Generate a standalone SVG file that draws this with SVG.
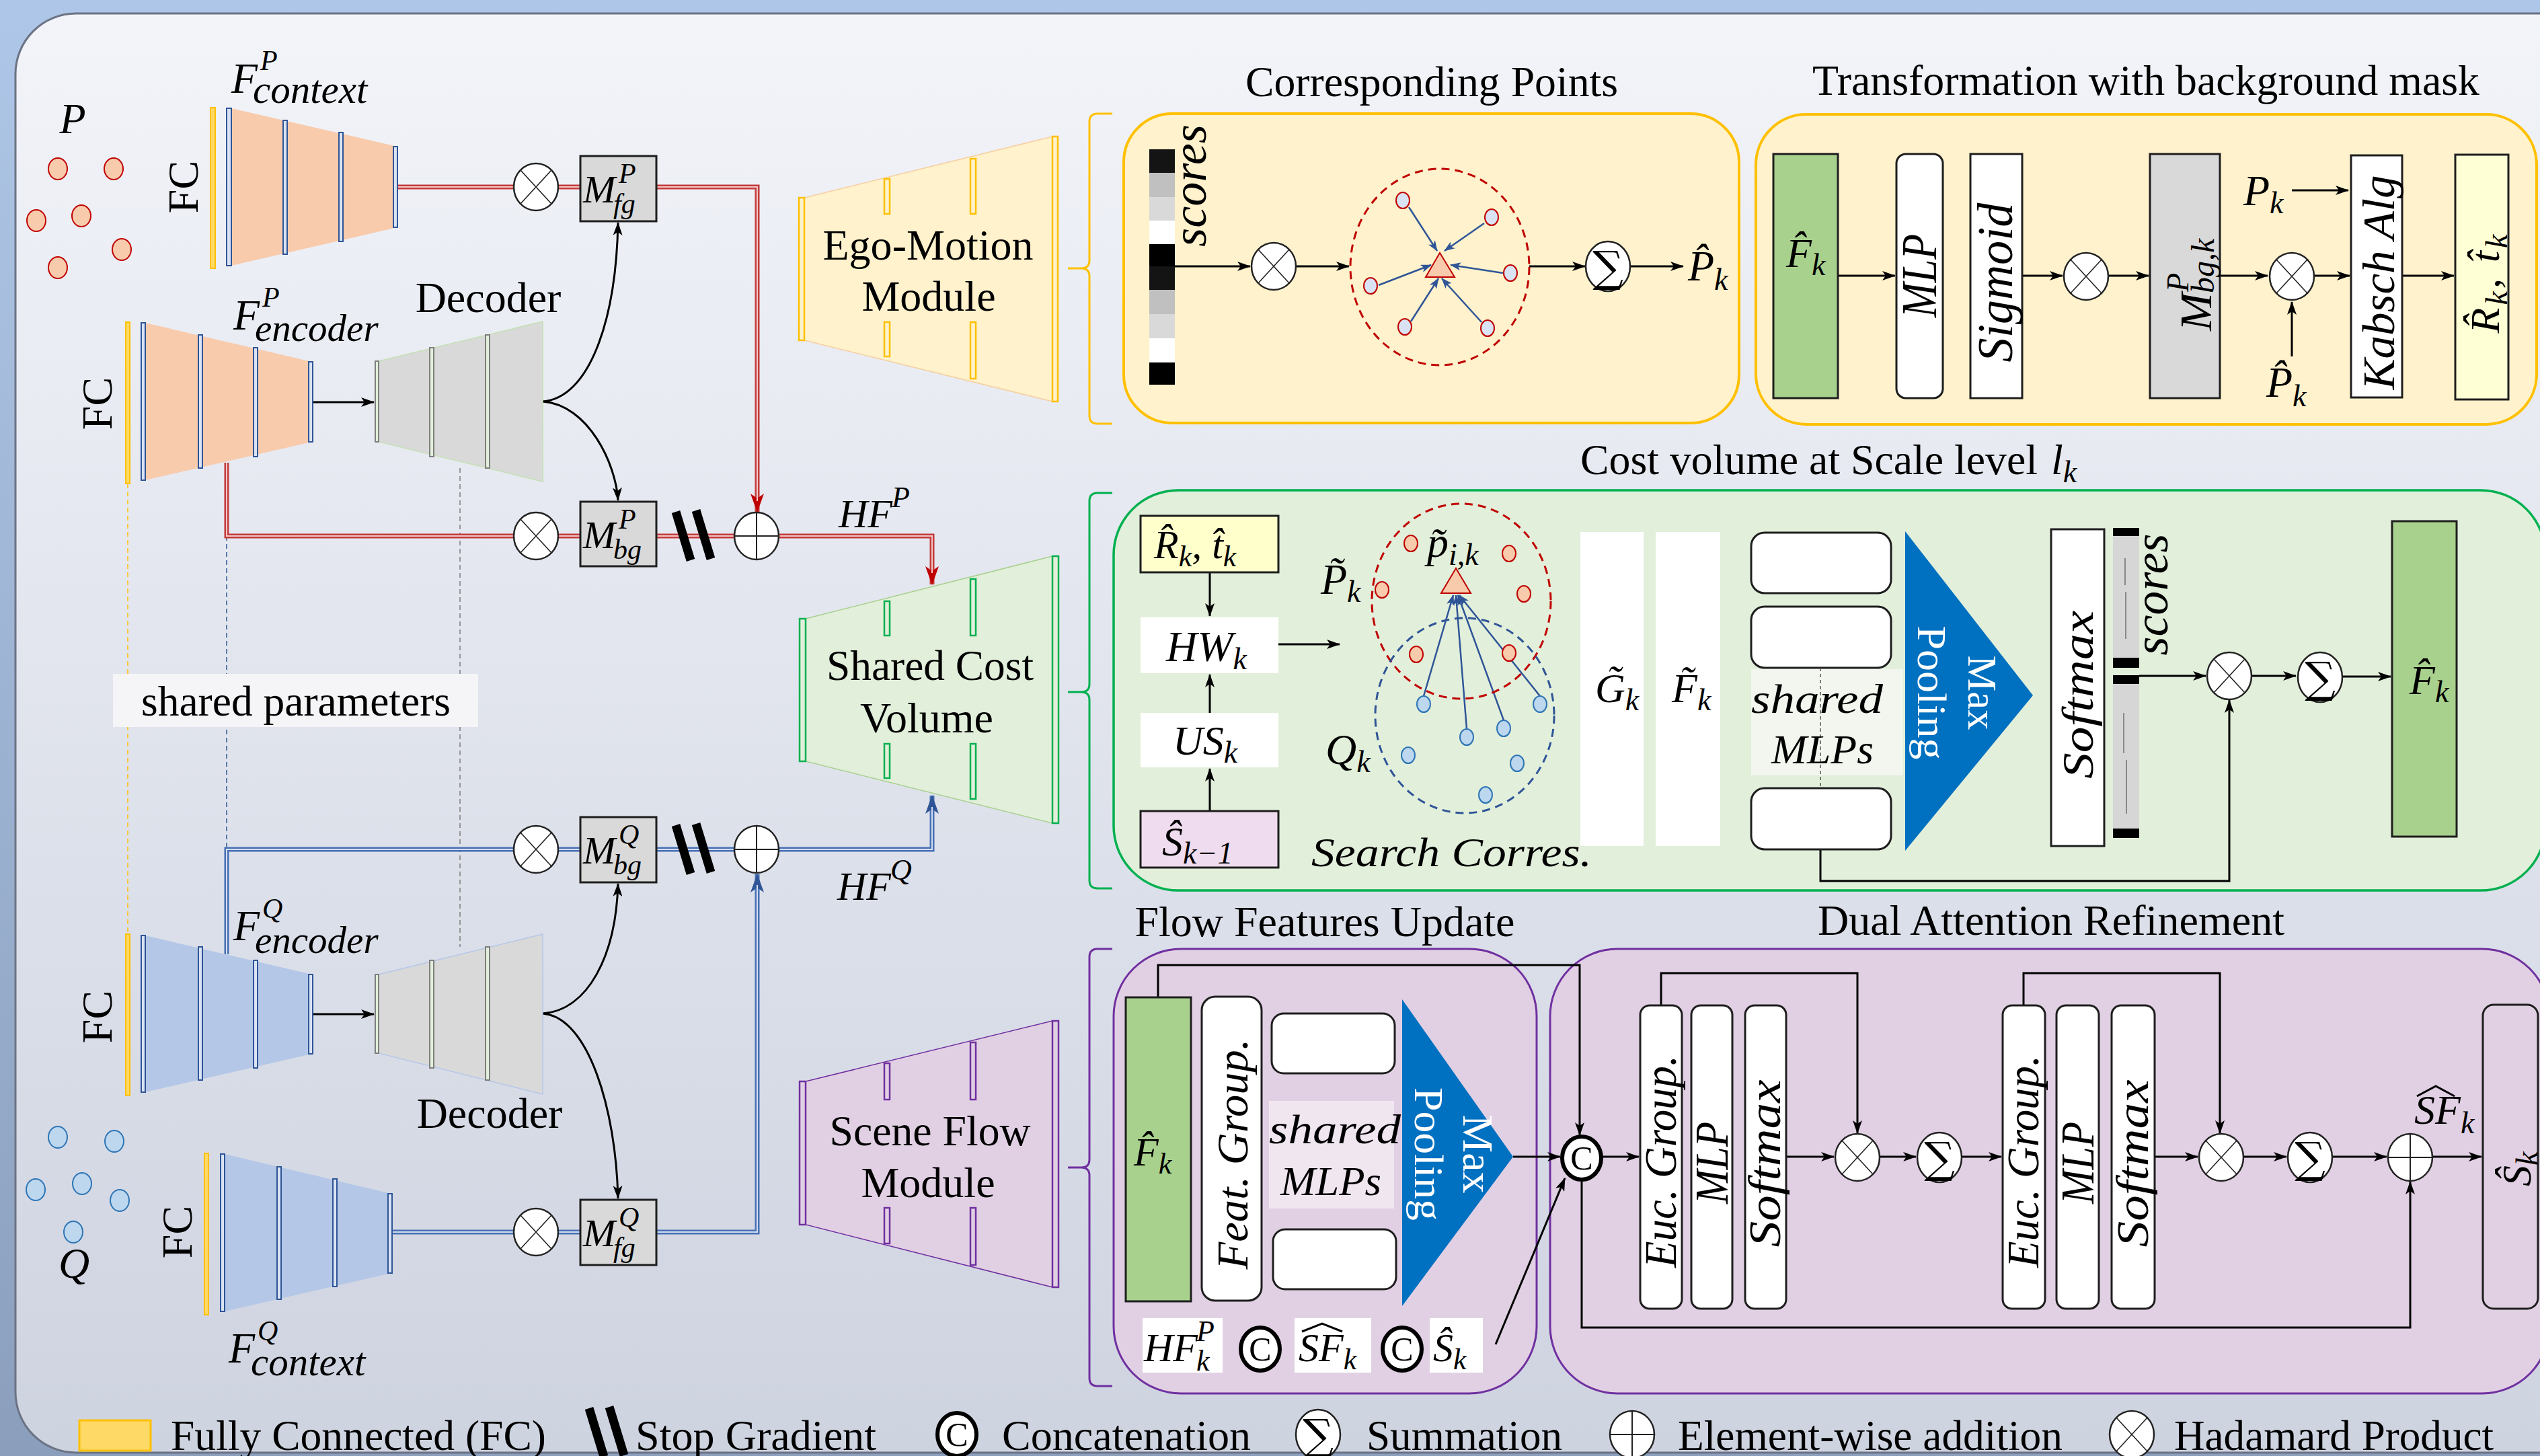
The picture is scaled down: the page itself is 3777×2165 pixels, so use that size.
<svg xmlns="http://www.w3.org/2000/svg" width="3777" height="2165" viewBox="0 0 3777 2165">
<style>
.t{font-family:"Liberation Serif","Times New Roman",serif;fill:#000}
.i{font-family:"Liberation Serif","Times New Roman",serif;font-style:italic;fill:#000}
.w{fill:#fff}
.ln{fill:none;stroke:#000;stroke-width:3}
.ar{fill:none;stroke:#000;stroke-width:3;marker-end:url(#ab)}
.rd{fill:none;stroke:#c33b3b;stroke-width:7}
.rdi{fill:none;stroke:#f5c6c6;stroke-width:2}
.bl{fill:none;stroke:#4870b5;stroke-width:7}
.bli{fill:none;stroke:#d3def1;stroke-width:2}
.box{stroke:#1e1e1e;stroke-width:3}
.fc{fill:#ffd966;stroke:#ffc000;stroke-width:2}
.eb{fill:#dae3f3;stroke:#2f5597;stroke-width:2}
.db{fill:#e2efda;stroke:#7f7f7f;stroke-width:2}
.pp{fill:#f8cbad;stroke:#c00000;stroke-width:2}
.qp{fill:#bdd7ee;stroke:#2e75b6;stroke-width:2}
.sp{fill:#dae3f3;stroke:#c00000;stroke-width:2}
.ya{fill:#fff2cc;stroke:#ffc000;stroke-width:2.5}
.ga{fill:#e2efda;stroke:#00b050;stroke-width:2.5}
.pa{fill:#e1d0e3;stroke:#7030a0;stroke-width:2.5}
.ba{fill:none;stroke:#2f5597;stroke-width:2.5;marker-end:url(#as)}
</style>
<defs>
<linearGradient id="gOut" x1="0" y1="0" x2="0" y2="1"><stop offset="0" stop-color="#aec6e7"/><stop offset="1" stop-color="#8b9fbd"/></linearGradient>
<linearGradient id="gPan" x1="0" y1="0" x2="0" y2="1"><stop offset="0" stop-color="#f2f4f9"/><stop offset="1" stop-color="#ced3e0"/></linearGradient>
<marker id="ab" viewBox="0 0 20 14" refX="19" refY="7" markerWidth="20" markerHeight="14" markerUnits="userSpaceOnUse" orient="auto"><path d="M0,0 L20,7 L0,14 L5,7 z" fill="#000"/></marker>
<marker id="ar" viewBox="0 0 28 20" refX="27" refY="10" markerWidth="28" markerHeight="20" markerUnits="userSpaceOnUse" orient="auto"><path d="M0,0 L28,10 L0,20 L7,10 z" fill="#c00000"/></marker>
<marker id="au" viewBox="0 0 28 20" refX="27" refY="10" markerWidth="28" markerHeight="20" markerUnits="userSpaceOnUse" orient="auto"><path d="M0,0 L28,10 L0,20 L7,10 z" fill="#2f5597"/></marker>
<marker id="as" viewBox="0 0 16 12" refX="15" refY="6" markerWidth="16" markerHeight="12" markerUnits="userSpaceOnUse" orient="auto"><path d="M0,0 L16,6 L0,12 L4,6 z" fill="#2f5597"/></marker>
<g id="had"><ellipse rx="33" ry="35" fill="#fff" stroke="#222" stroke-width="2.5"/><path d="M-23,-25 L23,25 M23,-25 L-23,25" stroke="#222" stroke-width="1.6" fill="none"/></g>
<g id="add"><ellipse rx="33" ry="35" fill="#fff" stroke="#222" stroke-width="2.5"/><path d="M-33,0 H33 M0,-35 V35" stroke="#222" stroke-width="2" fill="none"/></g>
<g id="sum"><ellipse rx="33" ry="37" fill="#fff" stroke="#222" stroke-width="2.5"/><text y="23" text-anchor="middle" font-family="DejaVu Serif,serif" font-size="64">∑</text></g>
<g id="cat"><ellipse rx="29" ry="32" fill="#fff" stroke="#000" stroke-width="6"/><text y="17" text-anchor="middle" font-family="Liberation Serif,serif" font-size="50">C</text></g>
<g id="sg"><path d="M-26,-36 L-4,36 M4,-38 L26,34" stroke="#000" stroke-width="13" fill="none"/></g>
</defs>

<g id="background">
<rect width="3777" height="2165" fill="url(#gOut)"/>
<rect x="23" y="20" width="3850" height="2140" rx="90" fill="url(#gPan)" stroke="#6b7384" stroke-width="3"/>
</g>

<g id="shared-params">
<path d="M190,719 V1389" stroke="#ffc000" fill="none" stroke-width="1.5" stroke-dasharray="7 5"/>
<path d="M337,797 V1263" stroke="#2f5597" fill="none" stroke-width="1.5" stroke-dasharray="7 5"/>
<path d="M684,696 V1408" stroke="#7f7f7f" fill="none" stroke-width="1.5" stroke-dasharray="7 5"/>
<rect x="168" y="1002" width="543" height="79" fill="#f5f4f6"/>
<text class="t" x="440" y="1064" font-size="64" text-anchor="middle" textLength="460" lengthAdjust="spacingAndGlyphs">shared parameters</text>
</g>

<g id="modules">
<g id="ego-motion-module">
<polygon points="1196,294 1565,203 1565,597 1196,506" fill="#fff2cc" stroke="#f7cfa0" stroke-width="1.5"/>
<rect class="ya" x="1188" y="294" width="8" height="212"/><rect class="ya" x="1565" y="203" width="8" height="394"/>
<rect class="ya" x="1315" y="266" width="8" height="52"/><rect class="ya" x="1315" y="479" width="8" height="51"/>
<rect class="ya" x="1443" y="236" width="8" height="82"/><rect class="ya" x="1443" y="479" width="8" height="84"/>
<text class="t" x="1380" y="386" font-size="64" text-anchor="middle" textLength="313" lengthAdjust="spacingAndGlyphs">Ego-Motion</text>
<text class="t" x="1381" y="462" font-size="64" text-anchor="middle">Module</text>
<path d="M1654,169 H1632 Q1620,169 1620,181 V387 Q1620,399 1608,399 H1588 M1608,399 Q1620,399 1620,411 V618 Q1620,630 1632,630 H1654" fill="none" stroke="#ffc000" stroke-width="3"/>
</g>
<g id="shared-cost-volume">
<polygon points="1198,920 1565,827 1565,1224 1198,1132" fill="#e2efda" stroke="#a9d18e" stroke-width="1.5"/>
<rect class="ga" x="1189" y="920" width="9" height="212"/><rect class="ga" x="1565" y="827" width="9" height="397"/>
<rect class="ga" x="1315" y="894" width="8" height="51"/><rect class="ga" x="1315" y="1106" width="8" height="51"/>
<rect class="ga" x="1443" y="861" width="8" height="84"/><rect class="ga" x="1443" y="1106" width="8" height="82"/>
<text class="t" x="1383" y="1011" font-size="64" text-anchor="middle" textLength="308" lengthAdjust="spacingAndGlyphs">Shared Cost</text>
<text class="t" x="1378" y="1089" font-size="64" text-anchor="middle">Volume</text>
<path d="M1654,733 H1632 Q1620,733 1620,745 V1017 Q1620,1029 1608,1029 H1588 M1608,1029 Q1620,1029 1620,1041 V1309 Q1620,1321 1632,1321 H1654" fill="none" stroke="#00b050" stroke-width="3"/>
</g>
<g id="scene-flow-module">
<polygon points="1198,1608 1565,1518 1565,1914 1198,1821" fill="#e1d0e3" stroke="#7030a0" stroke-width="1.5"/>
<rect class="pa" x="1189" y="1608" width="9" height="213"/><rect class="pa" x="1565" y="1518" width="9" height="396"/>
<rect class="pa" x="1315" y="1581" width="8" height="54"/><rect class="pa" x="1315" y="1796" width="8" height="53"/>
<rect class="pa" x="1443" y="1550" width="8" height="85"/><rect class="pa" x="1443" y="1796" width="8" height="85"/>
<text class="t" x="1383" y="1703" font-size="64" text-anchor="middle" textLength="299" lengthAdjust="spacingAndGlyphs">Scene Flow</text>
<text class="t" x="1380" y="1780" font-size="64" text-anchor="middle">Module</text>
<path d="M1654,1411 H1632 Q1620,1411 1620,1423 V1724 Q1620,1736 1608,1736 H1588 M1608,1736 Q1620,1736 1620,1748 V2049 Q1620,2061 1632,2061 H1654" fill="none" stroke="#7030a0" stroke-width="3"/>
</g>
</g>

<g id="panels">
<rect id="panel-corresponding" x="1671" y="169" width="915" height="460" rx="72" fill="#fff2cc" stroke="#ffc000" stroke-width="4"/>
<text class="t" x="2129" y="143" font-size="64" text-anchor="middle" textLength="554" lengthAdjust="spacingAndGlyphs">Corresponding Points</text>
<rect id="panel-transformation" x="2611" y="170" width="1161" height="461" rx="75" fill="#fff2cc" stroke="#ffc000" stroke-width="4"/>
<text class="t" x="3191" y="141" font-size="64" text-anchor="middle" textLength="992" lengthAdjust="spacingAndGlyphs">Transformation with background mask</text>
<rect id="panel-cost" x="1656" y="729" width="2129" height="595" rx="96" fill="#e2efda" stroke="#00b050" stroke-width="3.5"/>
<text class="t" x="2350" y="705" font-size="64" textLength="680" lengthAdjust="spacingAndGlyphs">Cost volume at Scale level</text>
<text class="i" x="3050" y="705" font-size="64">l<tspan font-size="46" dy="12">k</tspan></text>
<rect id="panel-flow" x="1656" y="1411" width="629" height="661" rx="100" fill="#e1d0e3" stroke="#7030a0" stroke-width="3"/>
<text class="t" x="1970" y="1392" font-size="64" text-anchor="middle" textLength="565" lengthAdjust="spacingAndGlyphs">Flow Features Update</text>
<rect id="panel-dual" x="2305" y="1411" width="1486" height="661" rx="100" fill="#e1d0e3" stroke="#7030a0" stroke-width="3"/>
<text class="t" x="3050" y="1390" font-size="64" text-anchor="middle" textLength="694" lengthAdjust="spacingAndGlyphs">Dual Attention Refinement</text>
</g>

<g id="connectors">
<path class="rd" d="M591,278 H763 M831,278 H863 M337,688 V797 H763 M831,797 H863 M976,797 H1091"/>
<path class="rd" d="M976,278 H1126 V761" marker-end="url(#ar)"/>
<path class="rd" d="M1159,797 H1386 V869" marker-end="url(#ar)"/>
<path class="rdi" d="M591,278 H763 M831,278 H863 M337,688 V797 H763 M831,797 H863 M976,797 H1091 M976,278 H1126 V745 M1159,797 H1386 V852"/>
<path class="bl" d="M337,1419 V1263 H763 M831,1263 H863 M976,1263 H1091 M582,1832 H763 M831,1832 H863"/>
<path class="bl" d="M1159,1263 H1386 V1183" marker-end="url(#au)"/>
<path class="bl" d="M976,1832 H1126 V1300" marker-end="url(#au)"/>
<path class="bli" d="M337,1419 V1263 H763 M831,1263 H863 M976,1263 H1091 M582,1832 H763 M831,1832 H863 M1159,1263 H1386 V1200 M976,1832 H1126 V1316"/>
<path class="ar" d="M464,598 H556"/>
<path class="ar" d="M464,1508 H556"/>
<path class="ar" d="M807,597 C875,592 916,480 919,331"/>
<path class="ar" d="M807,597 C875,602 916,690 919,744"/>
<path class="ar" d="M807,1507 C875,1502 916,1420 919,1314"/>
<path class="ar" d="M807,1507 C875,1512 916,1650 919,1782"/>
<path class="ar" d="M1730,396 H1859"/>
<path class="ar" d="M1927,396 H2006"/>
<path class="ar" d="M2274,396 H2357"/>
<path class="ar" d="M2424,396 H2503"/>
<path class="ba" d="M2095,308 L2137,373"/>
<path class="ba" d="M2207,332 L2148,373"/>
<path class="ba" d="M2050,424 L2128,394"/>
<path class="ba" d="M2235,406 L2157,394"/>
<path class="ba" d="M2098,478 L2139,414"/>
<path class="ba" d="M2203,479 L2144,414"/>
<path class="ar" d="M2733,410 H2818"/>
<path class="ar" d="M3007,410 H3067"/>
<path class="ar" d="M3136,410 H3195"/>
<path class="ar" d="M3301,410 H3372"/>
<path class="ar" d="M3441,410 H3494"/>
<path class="ar" d="M3572,410 H3649"/>
<path class="ar" d="M3408,283 H3492"/>
<path class="ar" d="M3408,530 V449"/>
<path class="ar" d="M1799,851 V916"/>
<path class="ar" d="M1799,1060 V1003"/>
<path class="ar" d="M1799,1206 V1143"/>
<path class="ar" d="M1901,958 H1992"/>
<path class="ba" d="M2117,1035 L2161,885"/>
<path class="ba" d="M2290,1035 L2170,885"/>
<path class="ba" d="M2181,1084 L2165,885"/>
<path class="ba" d="M2236,1071 L2168,885"/>
<path class="ar" d="M3181,1005 H3280"/>
<path class="ar" d="M3349,1005 H3414"/>
<path class="ar" d="M3483,1006 H3555"/>
<path class="ar" d="M2707,1263 V1310 H3315 V1041"/>
<path class="ar" d="M2250,1720 H2320"/>
<path class="ar" d="M2224,1999 L2327,1752"/>
<path class="ar" d="M1722,1483 V1435 H2349 V1688"/>
<path class="ar" d="M2383,1720 H2437"/>
<path class="ar" d="M2470,1495 V1447 H2762 V1685"/>
<path class="ar" d="M2656,1720 H2727"/>
<path class="ar" d="M2795,1720 H2849"/>
<path class="ar" d="M2917,1720 H2976"/>
<path class="ar" d="M3009,1495 V1447 H3301 V1685"/>
<path class="ar" d="M3204,1720 H3268"/>
<path class="ar" d="M3336,1720 H3400"/>
<path class="ar" d="M3468,1720 H3549"/>
<path class="ar" d="M3617,1720 H3690"/>
<path class="ar" d="M2352,1757 V1974 H3584 V1757"/>
</g>

<g id="points-P">
<ellipse class="pp" cx="86" cy="251" rx="14" ry="16"/><ellipse class="pp" cx="169" cy="251" rx="14" ry="16"/>
<ellipse class="pp" cx="54" cy="328" rx="14" ry="16"/><ellipse class="pp" cx="121" cy="321" rx="14" ry="16"/>
<ellipse class="pp" cx="181" cy="371" rx="14" ry="16"/><ellipse class="pp" cx="86" cy="398" rx="14" ry="16"/>
<text class="i" x="108" y="198" font-size="64" text-anchor="middle">P</text>
</g>
<g id="context-encoder-P">
<rect class="fc" x="313" y="160" width="7" height="239"/>
<polygon points="344,161 591,218 591,338 344,395" fill="#f8cbad"/>
<rect class="eb" x="337" y="161" width="7" height="234"/><rect class="eb" x="421" y="179" width="6" height="199"/>
<rect class="eb" x="504" y="197" width="6" height="162"/><rect class="eb" x="585" y="218" width="6" height="120"/>
<text class="t" transform="translate(272,278) rotate(-90)" y="22" font-size="64" text-anchor="middle">FC</text>
<text class="i" x="344" y="138" font-size="64">F<tspan x="387" y="104" font-size="42">P</tspan><tspan x="376" y="153" font-size="59">context</tspan></text>
</g>
<g id="encoder-P">
<rect class="fc" x="187" y="479" width="6" height="240"/>
<polygon points="216,480 464,538 464,657 216,714" fill="#f8cbad"/>
<rect class="eb" x="210" y="480" width="6" height="234"/><rect class="eb" x="295" y="498" width="6" height="198"/>
<rect class="eb" x="377" y="517" width="6" height="162"/><rect class="eb" x="459" y="538" width="6" height="119"/>
<text class="t" transform="translate(144,600) rotate(-90)" y="22" font-size="64" text-anchor="middle">FC</text>
<text class="i" x="347" y="490" font-size="64">F<tspan x="390" y="456" font-size="42">P</tspan><tspan x="379" y="507" font-size="57">encoder</tspan></text>
</g>
<g id="decoder-P">
<polygon points="563,537 807,478 807,716 563,657" fill="#d9d9d9" stroke="#c5e0b4" stroke-width="1.5"/>
<rect class="db" x="558" y="537" width="5" height="120" fill="#e7e6e6"/>
<rect class="db" x="639" y="517" width="6" height="162"/><rect class="db" x="722" y="498" width="6" height="198"/>
<text class="t" x="726" y="464" font-size="64" text-anchor="middle">Decoder</text>
</g>
<g id="ops-P">
<use href="#had" x="797" y="278"/>
<rect class="box" x="863" y="232" width="113" height="97" fill="#d9d9d9"/>
<text class="i" x="867" y="301" font-size="58">M<tspan x="920" y="272" font-size="42">P</tspan><tspan x="912" y="317" font-size="42">fg</tspan></text>
<use href="#had" x="797" y="797"/>
<rect class="box" x="863" y="746" width="113" height="96" fill="#d9d9d9"/>
<text class="i" x="867" y="815" font-size="58">M<tspan x="920" y="786" font-size="42">P</tspan><tspan x="912" y="831" font-size="42">bg</tspan></text>
<use href="#sg" x="1031" y="797"/>
<use href="#add" x="1125" y="797"/>
<text class="i" x="1247" y="784" font-size="60">HF<tspan x="1326" y="754" font-size="44">P</tspan></text>
</g>
<g id="ops-Q">
<use href="#had" x="797" y="1263"/>
<rect class="box" x="863" y="1215" width="113" height="97" fill="#d9d9d9"/>
<text class="i" x="867" y="1284" font-size="58">M<tspan x="920" y="1255" font-size="42">Q</tspan><tspan x="912" y="1300" font-size="42">bg</tspan></text>
<use href="#sg" x="1031" y="1263"/>
<use href="#add" x="1125" y="1263"/>
<text class="i" x="1245" y="1338" font-size="60">HF<tspan x="1324" y="1308" font-size="44">Q</tspan></text>
<use href="#had" x="797" y="1832"/>
<rect class="box" x="863" y="1784" width="113" height="97" fill="#d9d9d9"/>
<text class="i" x="867" y="1853" font-size="58">M<tspan x="920" y="1824" font-size="42">Q</tspan><tspan x="912" y="1869" font-size="42">fg</tspan></text>
</g>
<g id="encoder-Q">
<rect class="fc" x="187" y="1389" width="6" height="240"/>
<polygon points="216,1391 464,1449 464,1567 216,1624" fill="#b4c7e7"/>
<rect class="eb" x="210" y="1391" width="6" height="233"/><rect class="eb" x="295" y="1408" width="6" height="198"/>
<rect class="eb" x="377" y="1428" width="6" height="160"/><rect class="eb" x="459" y="1449" width="6" height="118"/>
<text class="t" transform="translate(144,1512) rotate(-90)" y="22" font-size="64" text-anchor="middle">FC</text>
<text class="i" x="347" y="1398" font-size="64">F<tspan x="390" y="1365" font-size="42">Q</tspan><tspan x="379" y="1417" font-size="57">encoder</tspan></text>
</g>
<g id="decoder-Q">
<polygon points="563,1449 807,1389 807,1627 563,1566" fill="#d9d9d9" stroke="#b4c7e7" stroke-width="1.5"/>
<rect class="db" x="558" y="1449" width="5" height="117" fill="#e7e6e6"/>
<rect class="db" x="639" y="1428" width="6" height="160" fill="#e7e6e6"/><rect class="db" x="722" y="1408" width="6" height="198" fill="#e7e6e6"/>
<text class="t" x="728" y="1677" font-size="64" text-anchor="middle">Decoder</text>
</g>
<g id="points-Q">
<ellipse class="qp" cx="86" cy="1691" rx="14" ry="16"/><ellipse class="qp" cx="170" cy="1697" rx="14" ry="16"/>
<ellipse class="qp" cx="53" cy="1769" rx="14" ry="16"/><ellipse class="qp" cx="122" cy="1760" rx="14" ry="16"/>
<ellipse class="qp" cx="178" cy="1785" rx="14" ry="16"/><ellipse class="qp" cx="109" cy="1832" rx="14" ry="16"/>
<text class="i" x="110" y="1900" font-size="64" text-anchor="middle">Q</text>
</g>
<g id="context-encoder-Q">
<rect class="fc" x="304" y="1715" width="6" height="240"/>
<polygon points="334,1716 582,1775 582,1893 334,1950" fill="#b4c7e7"/>
<rect class="eb" x="328" y="1716" width="6" height="234"/><rect class="eb" x="412" y="1735" width="6" height="197"/>
<rect class="eb" x="495" y="1753" width="6" height="160"/><rect class="eb" x="577" y="1775" width="6" height="118"/>
<text class="t" transform="translate(263,1832) rotate(-90)" y="22" font-size="64" text-anchor="middle">FC</text>
<text class="i" x="340" y="2026" font-size="64">F<tspan x="383" y="1993" font-size="42">Q</tspan><tspan x="373" y="2045" font-size="59">context</tspan></text>
</g>

<g id="corresponding-points">
<rect x="1709" y="222" width="38" height="35" fill="#141414"/><rect x="1709" y="257" width="38" height="36" fill="#c0c0c0"/>
<rect x="1709" y="293" width="38" height="35" fill="#d9d9d9"/><rect x="1709" y="328" width="38" height="35" fill="#fff"/>
<rect x="1709" y="363" width="38" height="33" fill="#000"/><rect x="1709" y="396" width="38" height="35" fill="#141414"/>
<rect x="1709" y="431" width="38" height="36" fill="#c0c0c0"/><rect x="1709" y="467" width="38" height="36" fill="#d9d9d9"/>
<rect x="1709" y="503" width="38" height="36" fill="#fff"/><rect x="1709" y="539" width="38" height="33" fill="#000"/>
<text class="i" transform="translate(1777,276) rotate(-90)" y="16" font-size="72" text-anchor="middle" textLength="182" lengthAdjust="spacingAndGlyphs">scores</text>
<use href="#had" x="1894" y="396"/>
<ellipse cx="2141" cy="397" rx="133" ry="146" fill="none" stroke="#c00000" stroke-width="3" stroke-dasharray="12 8"/>
<ellipse class="sp" cx="2086" cy="298" rx="10" ry="12"/><ellipse class="sp" cx="2218" cy="323" rx="10" ry="12"/>
<ellipse class="sp" cx="2038" cy="425" rx="10" ry="12"/><ellipse class="sp" cx="2246" cy="406" rx="10" ry="12"/>
<ellipse class="sp" cx="2089" cy="486" rx="10" ry="12"/><ellipse class="sp" cx="2212" cy="488" rx="10" ry="12"/>
<polygon points="2141,376 2120,412 2163,412" fill="#f8cbad" stroke="#c00000" stroke-width="2"/>
<use href="#sum" x="2391" y="396"/>
<text class="i" x="2510" y="417" font-size="64">P&#x302;<tspan font-size="46" dy="14">k</tspan></text>
</g>

<g id="transformation">
<rect class="box" x="2637" y="229" width="96" height="363" fill="#a9d18e"/>
<text class="i" x="2656" y="397" font-size="62">F&#x302;<tspan font-size="46" dy="12">k</tspan></text>
<rect class="box" x="2820" y="229" width="69" height="363" rx="14" fill="#fff"/>
<text class="i" transform="translate(2855,410) rotate(-90)" y="24" font-size="74" text-anchor="middle" textLength="124" lengthAdjust="spacingAndGlyphs">MLP</text>
<rect class="box" x="2930" y="229" width="77" height="363" fill="#fff"/>
<text class="i" transform="translate(2968,420) rotate(-90)" y="24" font-size="74" text-anchor="middle" textLength="237" lengthAdjust="spacingAndGlyphs">Sigmoid</text>
<use href="#had" x="3102" y="411"/>
<rect class="box" x="3197" y="229" width="104" height="363" fill="#d9d9d9"/>
<text class="i" transform="translate(3288,492) rotate(-90)" x="0" y="0" font-size="68">M<tspan x="58" y="-34" font-size="46">P</tspan><tspan x="56" y="4" font-size="48">bg,k</tspan></text>
<use href="#had" x="3408" y="411"/>
<rect class="box" x="3496" y="231" width="76" height="360" fill="#fff"/>
<text class="i" transform="translate(3534,420) rotate(-90)" y="26" font-size="68" text-anchor="middle" textLength="319" lengthAdjust="spacingAndGlyphs">Kabsch Alg</text>
<rect class="box" x="3651" y="230" width="79" height="364" fill="#ffffd5"/>
<text class="i" transform="translate(3694,420) rotate(-90)" y="22" font-size="62" text-anchor="middle" letter-spacing="4">R&#x302;<tspan font-size="46" dy="12">k</tspan><tspan dy="-12">, t&#x302;</tspan><tspan font-size="46" dy="12">k</tspan></text>
<text class="i" x="3336" y="305" font-size="64">P<tspan font-size="46" dy="12">k</tspan></text>
<text class="i" x="3370" y="590" font-size="64">P&#x302;<tspan font-size="46" dy="14">k</tspan></text>
</g>

<g id="cost-volume">
<rect class="box" x="1696" y="767" width="205" height="84" fill="#ffffcc"/>
<text class="i" x="1716" y="830" font-size="60">R&#x302;<tspan font-size="44" dy="12">k</tspan><tspan dy="-12">, t&#x302;</tspan><tspan font-size="44" dy="12">k</tspan></text>
<rect x="1696" y="918" width="205" height="83" fill="#fff"/>
<text class="i" x="1734" y="983" font-size="64">HW<tspan font-size="46" dy="12">k</tspan></text>
<rect x="1696" y="1060" width="205" height="81" fill="#fff"/>
<text class="i" x="1744" y="1122" font-size="62">US<tspan font-size="46" dy="12">k</tspan></text>
<rect class="box" x="1696" y="1206" width="205" height="84" fill="#f0dcef"/>
<text class="i" x="1728" y="1272" font-size="62">&#x15C;<tspan font-size="46" dy="12">k−1</tspan></text>
<ellipse cx="2173" cy="894" rx="133" ry="145" fill="none" stroke="#c00000" stroke-width="3" stroke-dasharray="12 8"/>
<ellipse cx="2178" cy="1064" rx="133" ry="145" fill="none" stroke="#2f5597" stroke-width="3" stroke-dasharray="12 8"/>
<ellipse class="pp" cx="2098" cy="808" rx="10" ry="12"/><ellipse class="pp" cx="2244" cy="823" rx="10" ry="12"/>
<ellipse class="pp" cx="2055" cy="877" rx="10" ry="12"/><ellipse class="pp" cx="2266" cy="883" rx="10" ry="12"/>
<ellipse class="pp" cx="2106" cy="973" rx="10" ry="12"/><ellipse class="pp" cx="2244" cy="971" rx="10" ry="12"/>
<ellipse class="qp" cx="2117" cy="1047" rx="10" ry="12"/><ellipse class="qp" cx="2290" cy="1047" rx="10" ry="12"/>
<ellipse class="qp" cx="2181" cy="1096" rx="10" ry="12"/><ellipse class="qp" cx="2236" cy="1083" rx="10" ry="12"/>
<ellipse class="qp" cx="2094" cy="1123" rx="10" ry="12"/><ellipse class="qp" cx="2256" cy="1135" rx="10" ry="12"/>
<ellipse class="qp" cx="2209" cy="1182" rx="10" ry="12"/>
<polygon points="2165,845 2143,882 2187,882" fill="#f8cbad" stroke="#c00000" stroke-width="2"/>
<text class="i" x="1964" y="883" font-size="64">P&#x303;<tspan font-size="46" dy="12">k</tspan></text>
<text class="i" x="2122" y="828" font-size="64">p&#x303;<tspan font-size="46" dy="12">i,k</tspan></text>
<text class="i" x="1971" y="1136" font-size="64">Q<tspan font-size="46" dy="12">k</tspan></text>
<text class="i" x="1950" y="1288" font-size="62" textLength="417" lengthAdjust="spacingAndGlyphs">Search Corres.</text>
<rect x="2350" y="791" width="94" height="467" fill="#fff"/>
<text class="i" x="2372" y="1044" font-size="62">G&#x303;<tspan font-size="46" dy="12">k</tspan></text>
<rect x="2462" y="791" width="96" height="467" fill="#fff"/>
<text class="i" x="2486" y="1044" font-size="62">F&#x303;<tspan font-size="46" dy="12">k</tspan></text>
<rect class="box" x="2604" y="792" width="208" height="90" rx="20" fill="#fff"/>
<rect class="box" x="2604" y="902" width="208" height="91" rx="20" fill="#fff"/>
<rect class="box" x="2604" y="1172" width="208" height="91" rx="20" fill="#fff"/>
<rect x="2604" y="995" width="226" height="158" fill="#f2f6ee"/>
<path d="M2707,993 V1172" stroke="#555" stroke-width="1.5" stroke-dasharray="5 4" fill="none"/>
<text class="i" x="2604" y="1060" font-size="62" textLength="196" lengthAdjust="spacingAndGlyphs">shared</text>
<text class="i" x="2634" y="1135" font-size="62" textLength="152" lengthAdjust="spacingAndGlyphs">MLPs</text>
<polygon points="2833,790 3023,1034 2833,1265" fill="#0070c0"/>
<text class="t w" transform="translate(2927,1030) rotate(90)" y="0" font-size="62" text-anchor="middle" textLength="111" lengthAdjust="spacingAndGlyphs">Max</text>
<text class="t w" transform="translate(2852,1030) rotate(90)" y="0" font-size="62" text-anchor="middle" textLength="199" lengthAdjust="spacingAndGlyphs">Pooling</text>
<rect class="box" x="3050" y="787" width="79" height="471" fill="#fff"/>
<text class="i" transform="translate(3090,1033) rotate(-90)" y="22" font-size="66" text-anchor="middle" textLength="250" lengthAdjust="spacingAndGlyphs">Softmax</text>
<rect x="3142" y="785" width="39" height="208" fill="#d6d6d6"/>
<rect x="3142" y="785" width="39" height="12" fill="#000"/><rect x="3142" y="978" width="39" height="15" fill="#000"/>
<rect x="3142" y="1004" width="39" height="242" fill="#d6d6d6"/>
<rect x="3142" y="1004" width="39" height="13" fill="#000"/><rect x="3142" y="1232" width="39" height="14" fill="#000"/>
<path d="M3160,830 v40 M3161,880 v70 M3158,1060 v60 M3162,1130 v80" stroke="#555" stroke-width="2" opacity="0.6" fill="none"/>
<text class="i" transform="translate(3207,884) rotate(-90)" y="16" font-size="72" text-anchor="middle" textLength="181" lengthAdjust="spacingAndGlyphs">scores</text>
<use href="#had" x="3315" y="1005"/>
<use href="#sum" x="3450" y="1007"/>
<rect class="box" x="3557" y="775" width="96" height="469" fill="#a9d18e"/>
<text class="i" x="3583" y="1032" font-size="62">F&#x302;<tspan font-size="46" dy="12">k</tspan></text>
</g>

<g id="flow-features-update">
<rect class="box" x="1674" y="1483" width="97" height="452" fill="#a9d18e"/>
<text class="i" x="1686" y="1733" font-size="60">F&#x302;<tspan font-size="44" dy="12">k</tspan></text>
<rect class="box" x="1787" y="1482" width="89" height="452" rx="20" fill="#fff"/>
<text class="i" transform="translate(1831,1716) rotate(-90)" y="24" font-size="66" text-anchor="middle" textLength="343" lengthAdjust="spacingAndGlyphs">Feat. Group.</text>
<rect class="box" x="1891" y="1507" width="183" height="89" rx="18" fill="#fff"/>
<rect class="box" x="1893" y="1828" width="183" height="89" rx="18" fill="#fff"/>
<rect x="1887" y="1637" width="186" height="160" fill="#f0e6f0"/>
<text class="i" x="1887" y="1700" font-size="62" textLength="196" lengthAdjust="spacingAndGlyphs">shared</text>
<text class="i" x="1904" y="1777" font-size="62" textLength="150" lengthAdjust="spacingAndGlyphs">MLPs</text>
<polygon points="2085,1486 2250,1720 2085,1942" fill="#0070c0"/>
<text class="t w" transform="translate(2176,1716) rotate(90)" y="0" font-size="64" text-anchor="middle" textLength="117" lengthAdjust="spacingAndGlyphs">Max</text>
<text class="t w" transform="translate(2104,1716) rotate(90)" y="0" font-size="62" text-anchor="middle" textLength="198" lengthAdjust="spacingAndGlyphs">Pooling</text>
<rect x="1699" y="1960" width="119" height="81" fill="#fff"/>
<text class="i" x="1701" y="2024" font-size="60">HF<tspan x="1779" y="1994" font-size="44">P</tspan><tspan x="1779" y="2038" font-size="44">k</tspan></text>
<use href="#cat" x="1874" y="2006"/>
<rect x="1925" y="1960" width="114" height="81" fill="#fff"/>
<text class="i" x="1931" y="2024" font-size="60">SF<tspan font-size="44" dy="12">k</tspan></text>
<polyline points="1936,1980 1966,1968 1996,1980" fill="none" stroke="#000" stroke-width="3"/>
<use href="#cat" x="2085" y="2006"/>
<rect x="2126" y="1960" width="79" height="81" fill="#fff"/>
<text class="i" x="2131" y="2024" font-size="60">&#x15C;<tspan font-size="44" dy="12">k</tspan></text>
</g>

<g id="dual-attention">
<use href="#cat" x="2352" y="1722"/>
<rect class="box" x="2439" y="1495" width="62" height="451" rx="14" fill="#fff"/>
<text class="i" transform="translate(2470,1727) rotate(-90)" y="22" font-size="68" text-anchor="middle" textLength="316" lengthAdjust="spacingAndGlyphs">Euc. Group.</text>
<rect class="box" x="2515" y="1495" width="61" height="451" rx="14" fill="#fff"/>
<text class="i" transform="translate(2545,1729) rotate(-90)" y="24" font-size="70" text-anchor="middle" textLength="122" lengthAdjust="spacingAndGlyphs">MLP</text>
<rect class="box" x="2595" y="1495" width="61" height="451" rx="14" fill="#fff"/>
<text class="i" transform="translate(2625,1730) rotate(-90)" y="22" font-size="68" text-anchor="middle" textLength="249" lengthAdjust="spacingAndGlyphs">Softmax</text>
<use href="#had" x="2762" y="1721"/>
<use href="#sum" x="2884" y="1721"/>
<rect class="box" x="2978" y="1495" width="63" height="451" rx="14" fill="#fff"/>
<text class="i" transform="translate(3009,1727) rotate(-90)" y="22" font-size="68" text-anchor="middle" textLength="316" lengthAdjust="spacingAndGlyphs">Euc. Group.</text>
<rect class="box" x="3058" y="1495" width="63" height="451" rx="14" fill="#fff"/>
<text class="i" transform="translate(3089,1729) rotate(-90)" y="24" font-size="70" text-anchor="middle" textLength="122" lengthAdjust="spacingAndGlyphs">MLP</text>
<rect class="box" x="3140" y="1495" width="64" height="451" rx="14" fill="#fff"/>
<text class="i" transform="translate(3172,1730) rotate(-90)" y="22" font-size="68" text-anchor="middle" textLength="249" lengthAdjust="spacingAndGlyphs">Softmax</text>
<use href="#had" x="3303" y="1721"/>
<use href="#sum" x="3435" y="1721"/>
<use href="#add" x="3584" y="1721"/>
<text class="i" x="3590" y="1671" font-size="62">SF<tspan font-size="46" dy="14">k</tspan></text>
<polyline points="3594,1630 3622,1615 3650,1630" fill="none" stroke="#000" stroke-width="3"/>
<rect class="box" x="3692" y="1494" width="82" height="452" rx="16" fill="#e1d0e3"/>
<text class="i" transform="translate(3763,1764) rotate(-90)" y="0" font-size="62">&#x15C;<tspan font-size="46" dy="10">k</tspan></text>
</g>

<g id="legend">
<rect x="118" y="2112" width="106" height="45" fill="#ffd966" stroke="#ffc000" stroke-width="3"/>
<text class="t" x="254" y="2156" font-size="64" textLength="558" lengthAdjust="spacingAndGlyphs">Fully Connected (FC)</text>
<use href="#sg" x="902" y="2130"/>
<text class="t" x="945" y="2156" font-size="64" textLength="358" lengthAdjust="spacingAndGlyphs">Stop Gradient</text>
<use href="#cat" x="1423" y="2133"/>
<text class="t" x="1490" y="2156" font-size="64" textLength="370" lengthAdjust="spacingAndGlyphs">Concatenation</text>
<use href="#sum" x="1960" y="2133"/>
<text class="t" x="2032" y="2156" font-size="64" textLength="291" lengthAdjust="spacingAndGlyphs">Summation</text>
<use href="#add" x="2427" y="2133"/>
<text class="t" x="2495" y="2156" font-size="64" textLength="572" lengthAdjust="spacingAndGlyphs">Element-wise addition</text>
<use href="#had" x="3170" y="2133"/>
<text class="t" x="3233" y="2156" font-size="64" textLength="475" lengthAdjust="spacingAndGlyphs">Hadamard Product</text>
</g>
</svg>
